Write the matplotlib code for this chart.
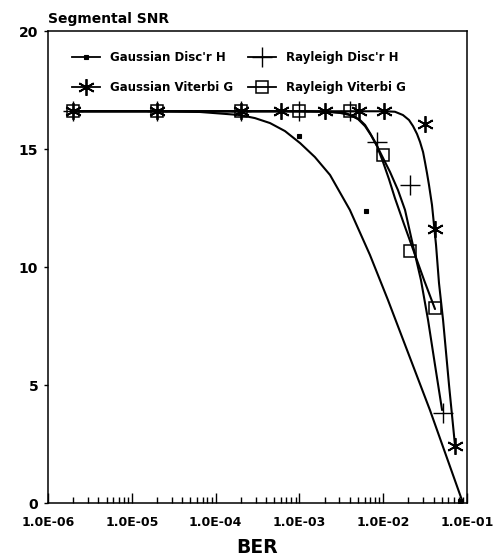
import numpy as np
import matplotlib
matplotlib.use("Agg")
import matplotlib.pyplot as plt
from matplotlib.lines import Line2D
from matplotlib.ticker import FixedLocator, LogLocator, NullFormatter

plt.rcParams['font.family'] = ['DejaVu Sans']

# measured points (BER, segmental SNR in dB)
gd_ber = [2e-6, 2e-5, 2e-4, 1e-3, 6.2e-3, 8.2e-2]
gd_snr = [16.6, 16.6, 16.6, 15.55, 12.37, 0.1]

gv_ber = [2e-6, 2e-5, 2e-4, 6e-4, 2e-3, 5.1e-3, 1.02e-2, 3.16e-2, 4.15e-2, 7.2e-2]
gv_snr = [16.6, 16.6, 16.6, 16.6, 16.6, 16.6, 16.6, 16.06, 11.6, 2.42]

rd_ber = [2e-6, 2e-5, 2e-4, 1e-3, 4e-3, 8.4e-3, 2.09e-2, 5.2e-2]
rd_snr = [16.6, 16.6, 16.6, 16.6, 16.6, 15.3, 13.47, 3.81]

rv_ber = [2e-6, 2e-5, 2e-4, 1e-3, 4e-3, 1.0e-2, 2.09e-2, 4.15e-2]
rv_snr = [16.6, 16.6, 16.6, 16.6, 16.6, 14.75, 10.68, 8.26]

# fitted curves
gd_fit_ber = [2e-6, 2e-5, 6.5e-5, 1.95e-4, 2.95e-4, 4.46e-4, 6.73e-4, 1.02e-3, 1.53e-3,
              2.32e-3, 4.0e-3, 6.95e-3, 1.14e-2, 3.61e-2, 8.95e-2]
gd_fit_snr = [16.6, 16.6, 16.57, 16.44, 16.31, 16.10, 15.76, 15.25, 14.66,
              13.90, 12.42, 10.51, 8.60, 3.94, 0.0]

gv_fit_ber = [2e-6, 2e-5, 2e-4, 1e-3, 1.05e-2, 1.38e-2, 1.72e-2, 2.03e-2, 2.27e-2, 2.53e-2,
              2.75e-2, 2.99e-2, 3.15e-2, 3.33e-2, 3.52e-2, 3.82e-2, 4.27e-2, 4.63e-2,
              5.18e-2, 6.1e-2, 7.2e-2]
gv_fit_snr = [16.6, 16.6, 16.6, 16.6, 16.6, 16.58, 16.44, 16.23, 15.97, 15.64,
              15.30, 14.87, 14.45, 13.98, 13.47, 12.63, 10.93, 9.32,
              7.75, 5.0, 2.42]

rd_fit_ber = [2e-6, 2e-5, 2e-4, 1e-3, 2.32e-3, 3.5e-3, 4.37e-3, 5.28e-3, 6.07e-3, 6.95e-3,
              7.98e-3, 9.17e-3, 1.205e-2, 1.50e-2, 1.82e-2, 2.33e-2, 2.82e-2, 3.43e-2,
              4.15e-2, 5.04e-2]
rd_fit_snr = [16.6, 16.6, 16.6, 16.6, 16.58, 16.53, 16.40, 16.23, 16.02, 15.68,
              15.30, 14.87, 14.03, 13.26, 12.42, 10.72, 9.45, 7.75,
              5.85, 3.94]

rv_fit_ber = [2e-6, 2e-5, 2e-4, 1e-3, 2.02e-3, 3.05e-3, 4.0e-3, 5.0e-3, 6.07e-3, 7.14e-3,
              8.43e-3, 9.95e-3, 1.17e-2, 1.38e-2, 1.77e-2, 2.33e-2, 3.07e-2, 4.15e-2]
rv_fit_snr = [16.6, 16.6, 16.6, 16.6, 16.58, 16.53, 16.44, 16.27, 15.97, 15.59,
              15.13, 14.45, 13.73, 12.92, 11.82, 10.64, 9.45, 8.22]

labels = ["Gaussian Disc'r H", "Gaussian Viterbi G", "Rayleigh Disc'r H", "Rayleigh Viterbi G"]
yticks = [0, 5, 10, 15, 20]
xticks = [1e-6, 1e-5, 1e-4, 1e-3, 1e-2, 1e-1]
xticklabels = ["1.0E-06", "1.0E-05", "1.0E-04", "1.0E-03", "1.0E-02", "1.0E-01"]

styles = {
    "gd": dict(marker='s', ms=3, mfc='k', mec='k', mew=0.8),
    "gv": dict(marker=(6, 2, 0), ms=12, mec='k', mew=1.3),
    "rd": dict(marker='+', ms=15, mec='k', mew=1.0),
    "rv": dict(marker='s', ms=9, mfc='none', mec='k', mew=1.1),
}

fig = plt.figure(figsize=(4.99, 5.57), dpi=100)
ax = fig.add_axes([0.0962, 0.0969, 0.8397, 0.8474])

for fx, fy in [(gd_fit_ber, gd_fit_snr), (gv_fit_ber, gv_fit_snr),
               (rd_fit_ber, rd_fit_snr), (rv_fit_ber, rv_fit_snr)]:
    ax.plot(fx, fy, color='k', lw=1.5, solid_joinstyle='round', solid_capstyle='round')

for key, bx, by in [("gd", gd_ber, gd_snr), ("gv", gv_ber, gv_snr),
                    ("rd", rd_ber, rd_snr), ("rv", rv_ber, rv_snr)]:
    ax.plot(bx, by, ls='none', color='k', **styles[key])

ax.set_xscale('log')
ax.set_xlim(1e-6, 1e-1)
ax.set_ylim(0, 20)

ax.xaxis.set_major_locator(FixedLocator(xticks))
ax.set_xticklabels(xticklabels)
ax.xaxis.set_minor_locator(LogLocator(base=10, subs=np.arange(2, 10)))
ax.xaxis.set_minor_formatter(NullFormatter())
ax.tick_params(axis='x', which='major', direction='in', length=7, width=1.0, pad=9,
               labelsize=9)
ax.tick_params(axis='x', which='minor', direction='in', length=4, width=1.0)
ax.set_yticks(yticks)
ax.tick_params(axis='y', direction='out', length=3, width=1.0, labelsize=10, pad=4)
for lbl in ax.get_xticklabels() + ax.get_yticklabels():
    lbl.set_fontweight('bold')

for sp in ax.spines.values():
    sp.set_linewidth(1.1)

ax.set_xlabel("BER", fontsize=13.5, fontweight='bold', labelpad=7)
fig.text(48 / 499, 1 - 23 / 557, "Segmental SNR", fontsize=10,
         fontweight='bold', ha='left', va='baseline')

handles = [Line2D([], [], color='k', lw=1.3, **styles[k]) for k in ("gd", "gv", "rd", "rv")]
ax.legend(handles, labels, ncol=2, frameon=False, loc='upper left',
          bbox_to_anchor=(0.057, 0.957), borderaxespad=0, borderpad=0,
          handlelength=2.4, handletextpad=0.85, columnspacing=1.2,
          labelspacing=1.45, prop={'weight': 'bold', 'size': 8.5})

fig.savefig("out.png", dpi=100)
